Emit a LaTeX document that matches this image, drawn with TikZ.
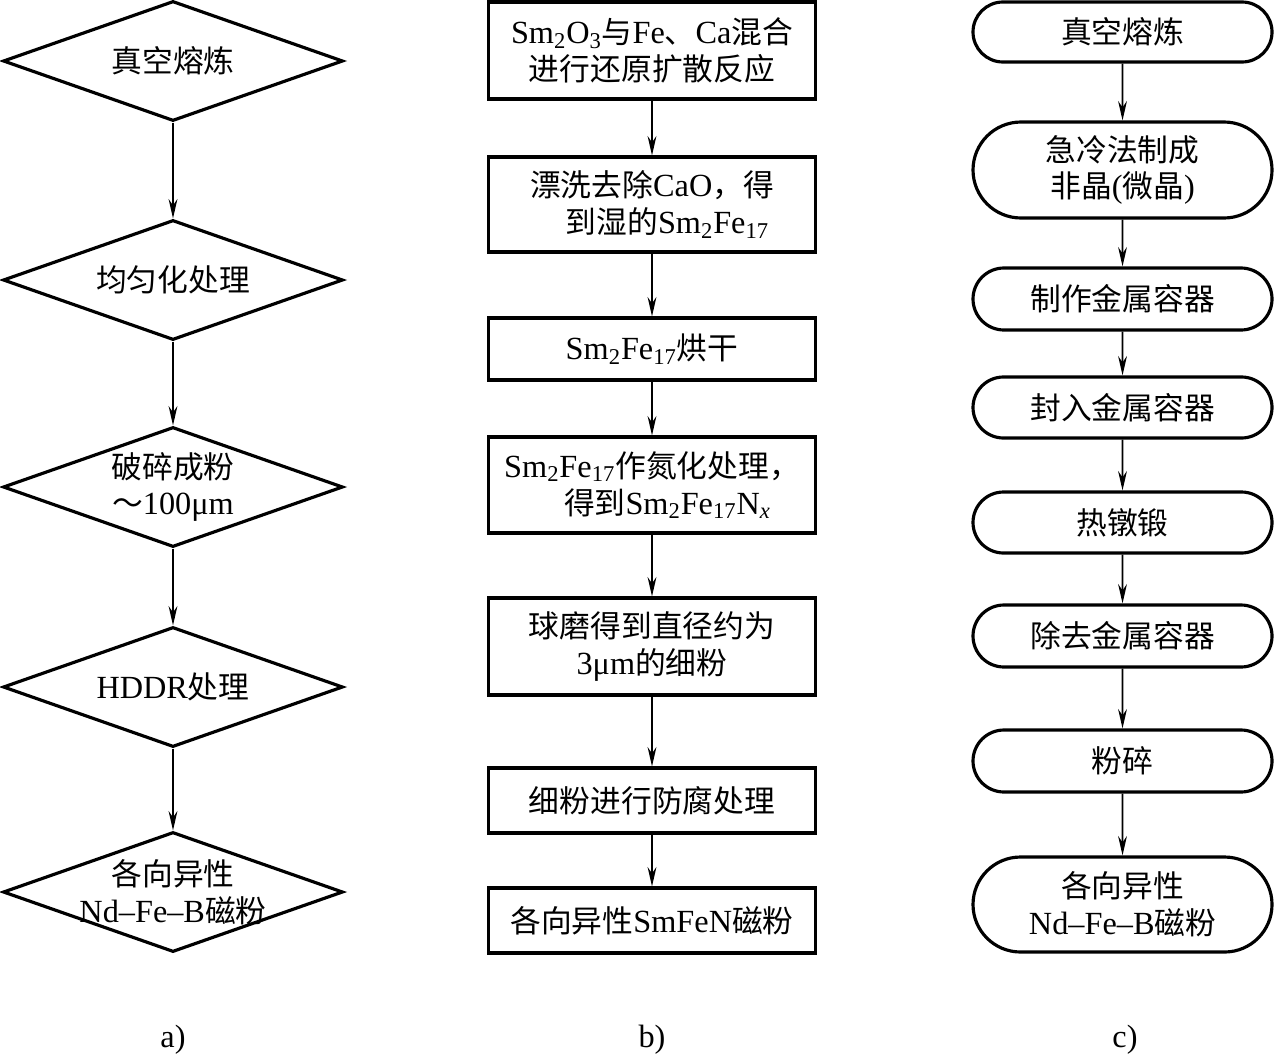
\documentclass[tikz,border=0pt]{standalone}
\usepackage{fontspec}
\setmainfont{Liberation Serif}[Scale=1.05]
\newfontfamily\cjk{Noto Sans CJK SC}
\usetikzlibrary{shapes.geometric, shapes.misc, arrows.meta}
\newcommand\lat[1]{{\rmfamily #1}}

\begin{document}
\begin{tikzpicture}[
    dia/.style={
        diamond,
        draw,
        line width=1.8pt,
        minimum width=6.8cm,
        minimum height=2.4cm,
        inner sep=0pt
    },
    txt/.style={
        font=\cjk\fontsize{17.5}{21}\selectfont,
        align=center
    },
    box/.style={
        rectangle,
        draw,
        line width=1.8pt,
        minimum width=6.54cm,
        inner sep=0pt,
        txt
    },
    pill/.style={
        rounded rectangle,
        draw,
        line width=1.8pt,
        minimum width=5.98cm,
        inner sep=0pt,
        txt
    },
    arrow/.style={
        -{Stealth[length=11pt, width=5pt]},
        line width=1pt
    },
    caption/.style={
        font=\fontsize{17.5}{21}\selectfont
    }
]

\useasboundingbox (0,0) rectangle (25.5,-21.1);

% Column a
\node[dia] (a1) at (3.46,-1.22) {};
\node[txt] at (a1) {真空熔炼};
\node[dia] (a2) at (3.46,-5.6) {};
\node[txt] at (a2) {均匀化处理};
\node[dia] (a3) at (3.46,-9.74) {};
\node[txt] at (a3) {破碎成粉\\～\lat{100μm}};
\node[dia] (a4) at (3.46,-13.74) {};
\node[txt] at (a4) {\lat{HDDR}处理};
\node[dia] (a5) at (3.46,-17.84) {};
\node[txt] at (a5) {各向异性\\\lat{Nd–Fe–B}磁粉};

% Column b
\node[box, minimum height=1.94cm] (b1) at (13.04,-1.01) {\lat{Sm\textsubscript{2}O\textsubscript{3}}与\lat{Fe}、\lat{Ca}混合\\进行还原扩散反应};
\node[box, minimum height=1.9cm] (b2) at (13.04,-4.09) {漂洗去除\lat{CaO}，得\\\hspace*{1em}到湿的\lat{Sm\textsubscript{2}Fe\textsubscript{17}}};
\node[box, minimum height=1.24cm] (b3) at (13.04,-6.98) {\lat{Sm\textsubscript{2}Fe\textsubscript{17}}烘干};
\node[box, minimum height=1.92cm] (b4) at (13.04,-9.7) {\lat{Sm\textsubscript{2}Fe\textsubscript{17}}作氮化处理，\\\hspace*{1em}得到\lat{Sm\textsubscript{2}Fe\textsubscript{17}N\textsubscript{\itshape x}}};
\node[box, minimum height=1.94cm] (b5) at (13.04,-12.93) {球磨得到直径约为\\\lat{3μm}的细粉};
\node[box, minimum height=1.3cm] (b6) at (13.04,-16.01) {细粉进行防腐处理};
\node[box, minimum height=1.3cm] (b7) at (13.04,-18.41) {各向异性\lat{SmFeN}磁粉};

% Column c
\node[pill, minimum height=1.2cm] (c1) at (22.45,-0.64) {真空熔炼};
\node[pill, minimum height=1.92cm] (c2) at (22.45,-3.4) {急冷法制成\\非晶\lat{(}微晶\lat{)}};
\node[pill, minimum height=1.24cm] (c3) at (22.45,-5.98) {制作金属容器};
\node[pill, minimum height=1.22cm] (c4) at (22.45,-8.15) {封入金属容器};
\node[pill, minimum height=1.22cm] (c5) at (22.45,-10.45) {热镦锻};
\node[pill, minimum height=1.24cm] (c6) at (22.45,-12.72) {除去金属容器};
\node[pill, minimum height=1.24cm] (c7) at (22.45,-15.22) {粉碎};
\node[pill, minimum height=1.9cm] (c8) at (22.45,-18.09) {各向异性\\\lat{Nd–Fe–B}磁粉};

% Connections
\foreach \i/\j in {1/2, 2/3, 3/4, 4/5} {
    \draw[arrow] (a\i) -- (a\j);
}
\foreach \i/\j in {1/2, 2/3, 3/4, 4/5, 5/6, 6/7} {
    \draw[arrow] (b\i) -- (b\j);
}
\foreach \i/\j in {1/2, 2/3, 3/4, 4/5, 5/6, 6/7, 7/8} {
    \draw[arrow] (c\i) -- (c\j);
}

% Captions
\node[caption] (capa) at (3.46,-20.8) {a)};
\node[caption] (capb) at (13.04,-20.8) {b)};
\node[caption] (capc) at (22.5,-20.8) {c)};

\end{tikzpicture}
\end{document}
